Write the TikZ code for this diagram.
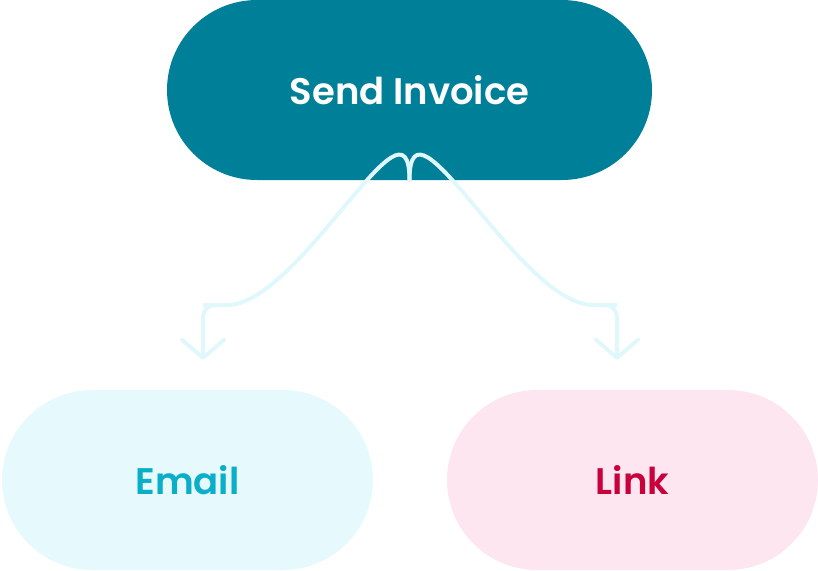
\documentclass[tikz,border=0pt]{standalone}
\usepackage{fontspec}
\setmainfont{Poppins}[BoldFont={* SemiBold}]
\usetikzlibrary{arrows.meta}
\usetikzlibrary{positioning}
\definecolor{invoiceteal}{HTML}{007F99}
\definecolor{emailbg}{HTML}{E6F9FD}
\definecolor{emailfg}{HTML}{0AAEC8}
\definecolor{linkbg}{HTML}{FDE6EF}
\definecolor{linkfg}{HTML}{C8003C}
\definecolor{flowline}{HTML}{E0F8FC}
\tikzset{
	pill/.style={rounded corners=90pt, minimum height=180pt, inner sep=0pt, font=\bfseries\fontsize{37}{40}\selectfont},
	flow/.style={line width=4pt, draw=flowline, line cap=round, rounded corners=12pt, -{Straight Barb[length=18pt, width=42pt, line cap=round, line join=round]}}
}
\begin{document}
\begin{tikzpicture}[x=1pt, y=-1pt]
				\useasboundingbox (0,0) rectangle (818,570);
				\node[pill, fill=invoiceteal, text=white, minimum width=485pt] (invoice) at (409.5,90) {Send Invoice};
				\node[pill, fill=emailbg, text=emailfg, minimum width=371pt] (email) at (187.5,480) {Email};
				\node[pill, fill=linkbg, text=linkfg, minimum width=371pt] (link) at (632.5,480) {Link};
		
				\coordinate (emailtip) at ([yshift=30pt]email.north -| 203,0);
				\coordinate (linktip) at ([yshift=30pt]link.north -| 617,0);
		
				\draw[flow] (invoice.south) .. controls ++(0,-100) and (300,305) .. (215,305) -| (emailtip);
				\draw[flow] (invoice.south) .. controls ++(0,-100) and (520,305) .. (605,305) -| (linktip);
			\end{tikzpicture}
\end{document}
